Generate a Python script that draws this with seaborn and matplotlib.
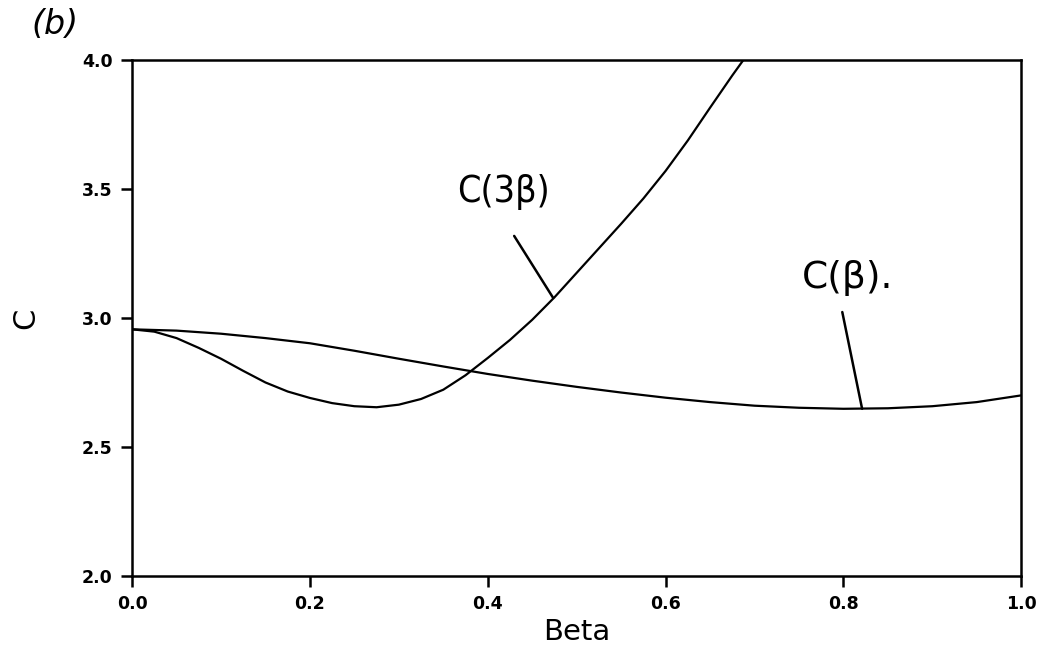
import matplotlib
matplotlib.use("Agg")
import matplotlib.pyplot as plt
import seaborn as sns
import pandas as pd

# C(beta) sampled on [0, 1]
beta = [0.00, 0.05, 0.10, 0.15, 0.20, 0.25, 0.30, 0.35, 0.40, 0.45, 0.50,
        0.55, 0.60, 0.65, 0.70, 0.75, 0.80, 0.85, 0.90, 0.95, 1.00]
c_beta = [2.956, 2.951, 2.939, 2.922, 2.902, 2.873, 2.842, 2.812, 2.783, 2.757, 2.733,
          2.711, 2.691, 2.674, 2.660, 2.652, 2.648, 2.650, 2.658, 2.674, 2.700]

# C(3 beta) sampled on [0, 0.7]
beta3 = [0.000, 0.025, 0.050, 0.075, 0.100, 0.125, 0.150, 0.175, 0.200, 0.225,
         0.250, 0.275, 0.300, 0.325, 0.350, 0.375, 0.400, 0.425, 0.450, 0.475,
         0.500, 0.525, 0.550, 0.575, 0.600, 0.625, 0.650, 0.675, 0.700]
c_3beta = [2.956, 2.947, 2.922, 2.884, 2.842, 2.795, 2.750, 2.715, 2.690, 2.670,
           2.658, 2.654, 2.664, 2.686, 2.722, 2.778, 2.845, 2.915, 2.993, 3.080,
           3.175, 3.270, 3.365, 3.463, 3.570, 3.688, 3.815, 3.940, 4.060]

x_ticks = [0.0, 0.2, 0.4, 0.6, 0.8, 1.0]
y_ticks = [2.0, 2.5, 3.0, 3.5, 4.0]

df1 = pd.DataFrame({"Beta": beta, "C": c_beta})
df3 = pd.DataFrame({"Beta": beta3, "C": c_3beta})

sns.set_style("ticks")
plt.rcParams["font.family"] = ["DejaVu Sans"]
plt.rcParams["text.color"] = "black"
plt.rcParams["axes.labelcolor"] = "black"

fig = plt.figure(figsize=(10.4, 6.54), dpi=100)
ax = fig.add_axes([0.127, 0.1193, 0.855, 0.789])

sns.lineplot(data=df1, x="Beta", y="C", color="black", lw=1.6, ax=ax)
sns.lineplot(data=df3, x="Beta", y="C", color="black", lw=1.6, ax=ax)

ax.set_xlim(0, 1)
ax.set_ylim(2, 4)
ax.set_xticks(x_ticks)
ax.set_yticks(y_ticks)
ax.set_xticklabels([f"{v:.1f}" for v in x_ticks], fontsize=12.5, fontweight="bold")
ax.set_yticklabels([f"{v:.1f}" for v in y_ticks], fontsize=12.5, fontweight="bold")
ax.tick_params(direction="out", length=8, width=1.8, pad=6, colors="black")
for s in ax.spines.values():
    s.set_linewidth(1.8)
    s.set_color("black")
    s.set_visible(True)

ax.set_xlabel("Beta", fontsize=21, labelpad=3, color="black")
ax.set_ylabel("C", fontsize=22, labelpad=30, color="black")

# curve labels with leader lines
ax.text(0.418, 3.49, "C(3β)", fontsize=27, fontstretch="condensed",
        ha="center", va="center", color="black")
ax.plot([0.4297, 0.4735], [3.318, 3.078], color="black", lw=1.8)
ax.text(0.805, 3.155, "C(β).", fontsize=27, ha="center", va="center", color="black")
ax.plot([0.7987, 0.821], [3.023, 2.648], color="black", lw=1.8)

fig.text(0.053, 0.962, "(b)", fontsize=24, ha="center", va="center",
         style="italic", color="black")

fig.savefig("out.png", dpi=100, facecolor="white")
